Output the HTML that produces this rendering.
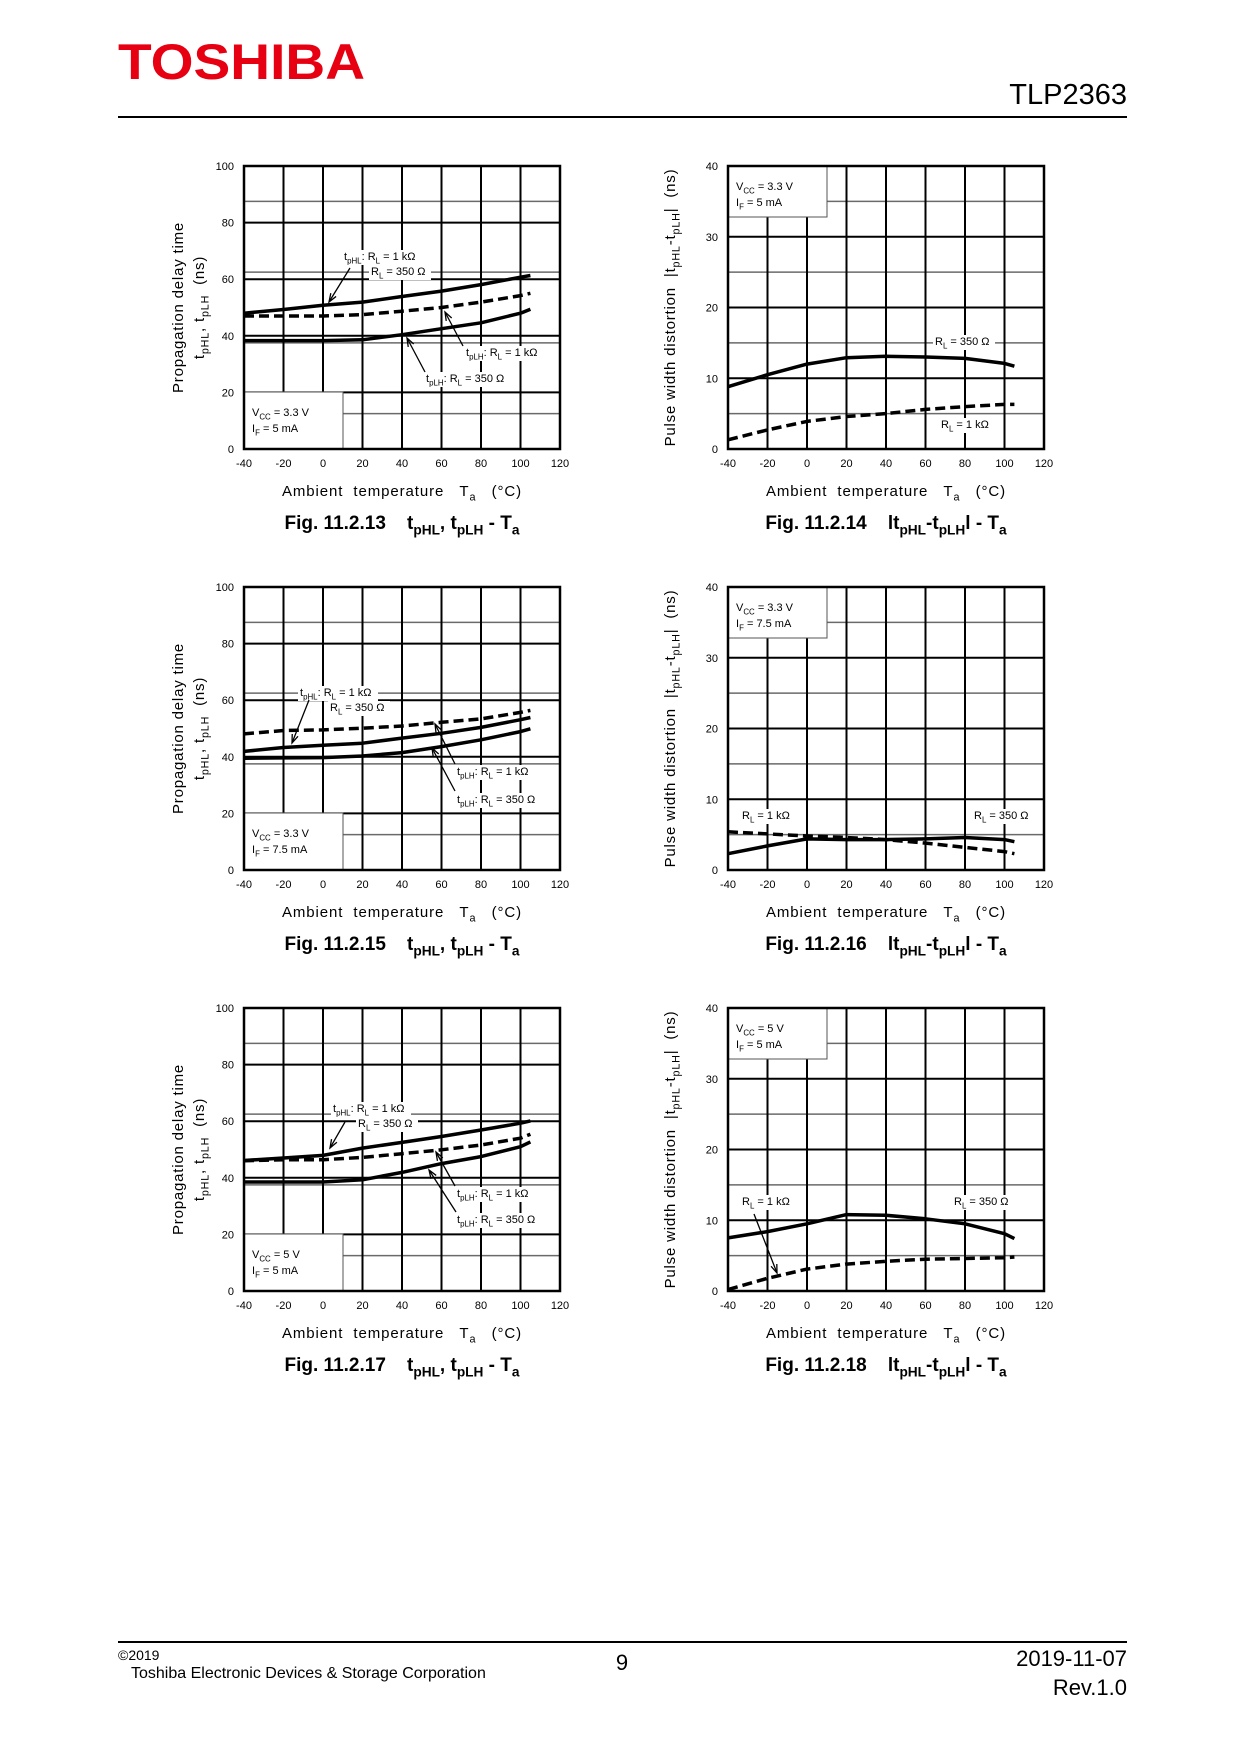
<!DOCTYPE html>
<html><head><meta charset="utf-8">
<style>
html,body{margin:0;padding:0;background:#fff;}
body{width:1240px;height:1754px;position:relative;overflow:hidden;font-family:"Liberation Sans",sans-serif;}
svg text{font-family:"Liberation Sans",sans-serif;white-space:pre;}
</style></head>
<body>
<svg id="page" width="1240" height="1754" viewBox="0 0 1240 1754" xmlns="http://www.w3.org/2000/svg">
  <text x="118" y="79" font-size="50" font-weight="bold" fill="#e60012" textLength="247" lengthAdjust="spacingAndGlyphs">TOSHIBA</text>
  <text x="1127" y="104" font-size="29" text-anchor="end">TLP2363</text>
  <rect x="118" y="116" width="1009" height="2" fill="#000"/>
  <rect x="118" y="1641" width="1009" height="2" fill="#000"/>
  <text x="118" y="1660" font-size="14">©2019</text>
  <text x="131" y="1678" font-size="16">Toshiba Electronic Devices &amp; Storage Corporation</text>
  <text x="622" y="1670" font-size="22" text-anchor="middle">9</text>
  <text x="1127" y="1666" font-size="22" text-anchor="end">2019-11-07</text>
  <text x="1127" y="1695" font-size="22" text-anchor="end">Rev.1.0</text>
  <g id="charts"></g>
</svg>
<script>
// ---- data (temperature x values in °C) ----
const temps = [-40, -20, 0, 20, 40, 60, 80, 100, 105];
const xTicks = [-40, -20, 0, 20, 40, 60, 80, 100, 120];
const yTicksDelay = [0, 20, 40, 60, 80, 100];
const yTicksPwd = [0, 10, 20, 30, 40];
// Fig 11.2.13
const f13_tpHL = [48, 49.3, 50.8, 51.9, 53.9, 55.8, 58.1, 60.7, 61.3];
const f13_tpLH1k = [47, 47, 47, 47.5, 48.7, 50, 51.9, 54.2, 55];
const f13_tpLH350 = [38.3, 38.3, 38.3, 38.6, 40.4, 42.5, 44.6, 48, 49.4];
// Fig 11.2.14
const f14_rl350 = [8.8, 10.5, 12, 12.9, 13.1, 13.0, 12.8, 12.1, 11.7];
const f14_rl1k = [1.3, 2.7, 3.9, 4.6, 5.0, 5.6, 6.0, 6.3, 6.3];
// Fig 11.2.15
const f15_tpHL = [41.9, 43.3, 44.1, 44.8, 46.6, 48.3, 50.4, 53.1, 53.9];
const f15_tpLH1k = [48.1, 49.3, 49.5, 50.1, 50.9, 52.2, 53.4, 55.7, 56.4];
const f15_tpLH350 = [39.5, 39.6, 39.7, 40.3, 41.5, 43.6, 46, 48.9, 49.9];
// Fig 11.2.16
const f16_rl350 = [2.3, 3.4, 4.4, 4.3, 4.3, 4.4, 4.6, 4.3, 4.0];
const f16_rl1k = [5.4, 5.1, 4.8, 4.6, 4.3, 3.8, 3.2, 2.6, 2.3];
// Fig 11.2.17
const f17_tpHL = [46.1, 47, 47.9, 50.5, 52.5, 54.6, 56.9, 59.3, 60.1];
const f17_tpLH1k = [46, 46.4, 46.4, 47.2, 48.5, 49.9, 51.6, 54, 55.4];
const f17_tpLH350 = [38.5, 38.5, 38.5, 39.3, 41.9, 45, 47.5, 51, 52.7];
// Fig 11.2.18
const f18_rl350 = [7.5, 8.4, 9.5, 10.8, 10.7, 10.2, 9.5, 8.1, 7.4];
const f18_rl1k = [0.2, 1.8, 3.1, 3.8, 4.2, 4.5, 4.6, 4.7, 4.8];

const NS = "http://www.w3.org/2000/svg";
const W = 316, H = 283;
const SP = "\u00a0";
function xs(t){ return (t + 40) / 160 * W; }
function mk(tag, attrs, parent){
  const e = document.createElementNS(NS, tag);
  for (const k in attrs) e.setAttribute(k, attrs[k]);
  parent.appendChild(e); return e;
}
function subText(parent, x, y, parts, size, anchor){
  const t = mk("text", {x:x, y:y, "font-size":size, "text-anchor":anchor||"start"}, parent);
  parts.forEach(p => {
    const s = document.createElementNS(NS, "tspan");
    s.textContent = p[0].replace(/ /g, SP);
    if (p[1] === "sub") { s.setAttribute("dy", size*0.3); s.setAttribute("font-size", size*0.72); }
    if (p[1] === "up") { s.setAttribute("dy", -size*0.3); }
    t.appendChild(s);
  });
  return t;
}
const root = document.getElementById("charts");

function chart(cfg){
  const g = mk("g", {transform:"translate("+cfg.ox+","+cfg.oy+")"}, root);
  
  
  const ymax = cfg.ymax;
  const ys = v => H - v / ymax * H;
  const minorStep = ymax / 8;
  for (let v = minorStep; v < ymax; v += minorStep * 2) {
    const l = mk("line", {x1:0, x2:W, y1:ys(v), y2:ys(v), stroke:"#6a6a6a", "stroke-width":1.5}, g);
    
    
  }
  cfg.yTicks.forEach(v => {
    const l = mk("line", {x1:0, x2:W, y1:ys(v), y2:ys(v), stroke:"#000", "stroke-width":2}, g);
    
    
    const t = mk("text", {x:-10, y:ys(v)+4, "font-size":11, "text-anchor":"end"}, g);
    t.textContent = v;
    
    
  });
  xTicks.forEach(v => {
    const l = mk("line", {x1:xs(v), x2:xs(v), y1:0, y2:H, stroke:"#000", "stroke-width":2}, g);
    
    
    const t = mk("text", {x:xs(v), y:H+18, "font-size":11, "text-anchor":"middle"}, g);
    t.textContent = v;
    
    
  });
  const bx = cfg.box;
  const br = mk("rect", {x:0, y:bx.y, width:bx.w, height:bx.h, fill:"#fff", stroke:"#555", "stroke-width":1}, g);
  
  
  const c1 = subText(g, 8, bx.y+bx.t1, [["V"],["CC","sub"],[" = "+cfg.vcc,"up"]], 11);
  
  
  const c2 = subText(g, 8, bx.y+bx.t1+16, [["I"],["F","sub"],[" = "+cfg.if_,"up"]], 11);
  
  
  const fr = mk("rect", {x:0, y:0, width:W, height:H, fill:"none", stroke:"#000", "stroke-width":2.5}, g);
  
  
  cfg.labels.forEach(lb => {
    const bg = mk("rect", {x:lb.x-2, y:lb.y-10, width:lb.w, height:15, fill:"#fff"}, g);
    
    
    const t = subText(g, lb.x, lb.y, lb.parts, 11);
    
    
  });
  cfg.series.forEach(s => {
    const d = temps.map((t,i) => (i?"L":"M") + xs(t).toFixed(1) + " " + ys(s.vals[i]).toFixed(1)).join(" ");
    const p = mk("path", {d:d, fill:"none", stroke:"#000", "stroke-width":3.5, "stroke-linejoin":"round"}, g);
    if (s.dash) p.setAttribute("stroke-dasharray", "10,5");
    
    
  });
  cfg.arrows.forEach(a => {
    const l = mk("line", {x1:a[0], y1:a[1], x2:a[2], y2:a[3], stroke:"#000", "stroke-width":1.3}, g);
    
    
    const ang = Math.atan2(a[3]-a[1], a[2]-a[0]);
    const L = 9, sp = 0.35;
    const p1x = a[2]-L*Math.cos(ang-sp), p1y = a[3]-L*Math.sin(ang-sp);
    const p2x = a[2]-L*Math.cos(ang+sp), p2y = a[3]-L*Math.sin(ang+sp);
    const h = mk("path", {d:"M"+p1x+" "+p1y+" L"+a[2]+" "+a[3]+" L"+p2x+" "+p2y, fill:"none", stroke:"#000", "stroke-width":1.3}, g);
    
    
  });
  const xt = subText(g, W/2, 330, [["Ambient  temperature   T"],["a","sub"],["   (°C)","up"]], 15, "middle");
  xt.setAttribute("letter-spacing", "0.9");
  
  
  const cap = subText(g, W/2, 363, cfg.caption, 19, "middle");
  cap.setAttribute("font-weight", "bold");
  
  
  if (cfg.ymax === 100) {
    const a = mk("text", {x:0, y:0, "font-size":15, "text-anchor":"middle", "letter-spacing":"0.8", transform:"translate("+(-61)+","+(H/2)+") rotate(-90)"}, g);
    a.textContent = "Propagation delay time";
    
    
    const b = subText(g, 0, 0, [["t"],["pHL","sub"],[", t","up"],["pLH","sub"],["  (ns)","up"]], 15, "middle");
    b.setAttribute("transform", "translate("+(-40)+","+(H/2)+") rotate(-90)");
    b.setAttribute("letter-spacing", "0.8");
    
    
  } else {
    const b = subText(g, 0, 0, [["Pulse width distortion  |t"],["pHL","sub"],["-t","up"],["pLH","sub"],["|  (ns)","up"]], 15, "middle");
    b.setAttribute("transform", "translate("+(-53)+","+(H/2)+") rotate(-90)");
    b.setAttribute("letter-spacing", "0.8");
    
    
  }
}

const capDelay = n => [["Fig. 11.2."+n+"    t"],["pHL","sub"],[", t","up"],["pLH","sub"],[" - T","up"],["a","sub"]];
const capPwd = n => [["Fig. 11.2."+n+"    lt"],["pHL","sub"],["-t","up"],["pLH","sub"],["l - T","up"],["a","sub"]];
const lbHL1 = (x,y)=>({name:"label-tphl-1k", x:x, y:y, w:80, parts:[["t"],["pHL","sub"],[": R","up"],["L","sub"],[" = 1 kΩ","up"]]});
const lbHL2 = (x,y)=>({name:"label-tphl-350", x:x, y:y, w:62, parts:[["R"],["L","sub"],[" = 350 Ω","up"]]});
const lbLH1 = (x,y)=>({name:"label-tplh-1k", x:x, y:y, w:80, parts:[["t"],["pLH","sub"],[": R","up"],["L","sub"],[" = 1 kΩ","up"]]});
const lbLH2 = (x,y)=>({name:"label-tplh-350", x:x, y:y, w:86, parts:[["t"],["pLH","sub"],[": R","up"],["L","sub"],[" = 350 Ω","up"]]});
const lbR1 = (x,y)=>({name:"label-rl-1k", x:x, y:y, w:54, parts:[["R"],["L","sub"],[" = 1 kΩ","up"]]});
const lbR3 = (x,y)=>({name:"label-rl-350", x:x, y:y, w:62, parts:[["R"],["L","sub"],[" = 350 Ω","up"]]});
const leftBox = {y:226, w:99, h:57, t1:24};
const rightBox = {y:0, w:99, h:51, t1:24};

chart({name:"chart-fig-11-2-13", ox:244, oy:166, ymax:100, yTicks:yTicksDelay, vcc:"3.3 V", if_:"5 mA", box:leftBox,
  caption:capDelay(13),
  labels:[lbHL1(100,94), lbHL2(127,109), lbLH1(222,190), lbLH2(182,216)],
  arrows:[[106,102,85,136],[219,180,201,146],[181,206,163,172]],
  series:[{name:"tphl-line", vals:f13_tpHL},{name:"tplh-1k-line", vals:f13_tpLH1k, dash:true},{name:"tplh-350-line", vals:f13_tpLH350}]});
chart({name:"chart-fig-11-2-14", ox:728, oy:166, ymax:40, yTicks:yTicksPwd, vcc:"3.3 V", if_:"5 mA", box:rightBox,
  caption:capPwd(14),
  labels:[lbR3(207,179), lbR1(213,262)],
  arrows:[],
  series:[{name:"rl-350-line", vals:f14_rl350},{name:"rl-1k-line", vals:f14_rl1k, dash:true}]});
chart({name:"chart-fig-11-2-15", ox:244, oy:587, ymax:100, yTicks:yTicksDelay, vcc:"3.3 V", if_:"7.5 mA", box:leftBox,
  caption:capDelay(15),
  labels:[lbHL1(56,109), lbHL2(86,124), lbLH1(213,188), lbLH2(213,216)],
  arrows:[[65,113,48,156],[211,177,191,137],[211,204,188,161]],
  series:[{name:"tphl-line", vals:f15_tpHL},{name:"tplh-1k-line", vals:f15_tpLH1k, dash:true},{name:"tplh-350-line", vals:f15_tpLH350}]});
chart({name:"chart-fig-11-2-16", ox:728, oy:587, ymax:40, yTicks:yTicksPwd, vcc:"3.3 V", if_:"7.5 mA", box:rightBox,
  caption:capPwd(16),
  labels:[lbR1(14,232), lbR3(246,232)],
  arrows:[],
  series:[{name:"rl-350-line", vals:f16_rl350},{name:"rl-1k-line", vals:f16_rl1k, dash:true}]});
chart({name:"chart-fig-11-2-17", ox:244, oy:1008, ymax:100, yTicks:yTicksDelay, vcc:"5 V", if_:"5 mA", box:leftBox,
  caption:capDelay(17),
  labels:[lbHL1(89,104), lbHL2(114,119), lbLH1(213,189), lbLH2(213,215)],
  arrows:[[101,114,86,140],[211,178,192,144],[212,204,185,162]],
  series:[{name:"tphl-line", vals:f17_tpHL},{name:"tplh-1k-line", vals:f17_tpLH1k, dash:true},{name:"tplh-350-line", vals:f17_tpLH350}]});
chart({name:"chart-fig-11-2-18", ox:728, oy:1008, ymax:40, yTicks:yTicksPwd, vcc:"5 V", if_:"5 mA", box:rightBox,
  caption:capPwd(18),
  labels:[lbR1(14,197), lbR3(226,197)],
  arrows:[[26,206,49,265]],
  series:[{name:"rl-350-line", vals:f18_rl350},{name:"rl-1k-line", vals:f18_rl1k, dash:true}]});
</script>
</body></html>
